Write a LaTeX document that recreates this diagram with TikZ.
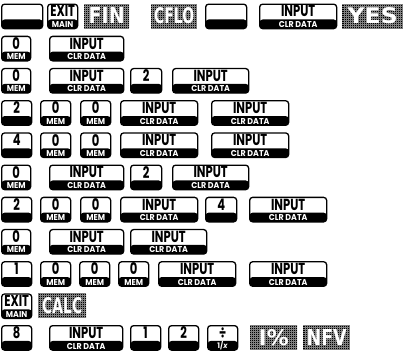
\documentclass[tikz,border=0pt]{standalone}
\usepackage{fontspec}
\usepackage{graphicx}
\setmainfont{Poppins}
\newfontfamily\lcdfont{DejaVu Sans}
\tikzset{
 keybox/.style={draw=black, line width=1.3pt, rounded corners=3pt, fill=white, minimum height=24.5pt, inner sep=0pt,
   path picture={\fill[black] ([yshift=-2pt]path picture bounding box.south west) rectangle ([yshift=9.2pt]path picture bounding box.south east);}},
 keytop/.style={font=\bfseries\fontsize{16}{16}\selectfont, inner sep=0pt, text=black},
 keybot/.style={font=\bfseries\fontsize{8.5}{8.5}\selectfont, inner sep=0pt, text=white},
 lcdbox/.style={fill=black, minimum height=24.5pt, inner sep=0pt, text=white, font=\lcdfont\bfseries,
   path picture={\draw[black!50, line width=0.3pt] (path picture bounding box.south west) grid[step=2pt] (path picture bounding box.north east);}},
}
\newcommand\hpkey[6]{%
 \node[keybox, minimum width=#4pt, anchor=north west] (#1) at (#2,#3) {};
 \node[keytop] (#1t) at ([yshift=-7.8pt]#1.north) {\scalebox{0.72}[1]{#5}};
 \node[keybot] (#1b) at ([yshift=4.8pt]#1.south) {\scalebox{0.93}[1]{#6}};
}
\newcommand\lcd[6]{%
 \node[lcdbox, minimum width=#4pt, anchor=north west] (#1) at (#2,#3) {\resizebox{#5pt}{16pt}{#6}};
}
\begin{document}
\begin{tikzpicture}[x=1pt,y=-1pt]
\useasboundingbox (0,0) rectangle (403,351);
% row 1
\hpkey{a1}{1}{3.5}{41}{}{}
\hpkey{a2}{47}{3.5}{30}{EXIT}{MAIN}
\lcd{a3}{84}{3.5}{45}{36}{FIN}
\lcd{a4}{151}{3.5}{46}{40}{CFLO}
\hpkey{a5}{205}{3.5}{41}{}{}
\hpkey{a6}{259}{3.5}{77}{INPUT}{CLR DATA}
\lcd{a7}{342}{3.5}{61}{50}{YES}
% row 2
\hpkey{b1}{1}{35.7}{29}{0}{MEM}
\hpkey{b2}{49}{35.7}{74}{INPUT}{CLR DATA}
% row 3
\hpkey{c1}{1}{67.9}{29}{0}{MEM}
\hpkey{c2}{49}{67.9}{74}{INPUT}{CLR DATA}
\hpkey{c3}{130}{67.9}{31}{2}{}
\hpkey{c4}{172}{67.9}{76}{INPUT}{CLR DATA}
% row 4
\hpkey{d1}{1}{100.1}{30}{2}{}
\hpkey{d2}{40}{100.1}{30}{0}{MEM}
\hpkey{d3}{80}{100.1}{30}{0}{MEM}
\hpkey{d4}{120}{100.1}{77}{INPUT}{CLR DATA}
\hpkey{d5}{211}{100.1}{77}{INPUT}{CLR DATA}
% row 5
\hpkey{e1}{1}{132.3}{30}{4}{}
\hpkey{e2}{40}{132.3}{30}{0}{MEM}
\hpkey{e3}{80}{132.3}{30}{0}{MEM}
\hpkey{e4}{120}{132.3}{77}{INPUT}{CLR DATA}
\hpkey{e5}{211}{132.3}{77}{INPUT}{CLR DATA}
% row 6
\hpkey{f1}{1}{164.5}{29}{0}{MEM}
\hpkey{f2}{49}{164.5}{74}{INPUT}{CLR DATA}
\hpkey{f3}{130}{164.5}{31}{2}{}
\hpkey{f4}{172}{164.5}{76}{INPUT}{CLR DATA}
% row 7
\hpkey{g1}{1}{196.7}{30}{2}{}
\hpkey{g2}{40}{196.7}{30}{0}{MEM}
\hpkey{g3}{80}{196.7}{30}{0}{MEM}
\hpkey{g4}{120}{196.7}{77}{INPUT}{CLR DATA}
\hpkey{g5}{205}{196.7}{31}{4}{}
\hpkey{g6}{249}{196.7}{77}{INPUT}{CLR DATA}
% row 8
\hpkey{h1}{1}{228.9}{29}{0}{MEM}
\hpkey{h2}{49}{228.9}{74}{INPUT}{CLR DATA}
\hpkey{h3}{130}{228.9}{76}{INPUT}{CLR DATA}
% row 9
\hpkey{i1}{1}{261.1}{30}{1}{}
\hpkey{i2}{40}{261.1}{30}{0}{MEM}
\hpkey{i3}{79}{261.1}{30}{0}{MEM}
\hpkey{i4}{118}{261.1}{30}{0}{MEM}
\hpkey{i5}{158}{261.1}{77}{INPUT}{CLR DATA}
\hpkey{i6}{249}{261.1}{77}{INPUT}{CLR DATA}
% row 10
\hpkey{j1}{1}{293.3}{30}{EXIT}{MAIN}
\lcd{j2}{38}{293.3}{48}{40}{CALC}
% row 11
\hpkey{k1}{1}{325}{30}{8}{}
\hpkey{k2}{49}{325}{73}{INPUT}{CLR DATA}
\hpkey{k3}{130}{325}{30}{1}{}
\hpkey{k4}{168}{325}{30}{2}{}
\hpkey{k5}{207}{325}{30}{÷}{\scalebox{0.9}{1/\textit{x}}}
\lcd{k6}{250}{325}{47}{30}{I\%}
\lcd{k7}{303}{325}{47}{40}{NFV}
\end{tikzpicture}
\end{document}
